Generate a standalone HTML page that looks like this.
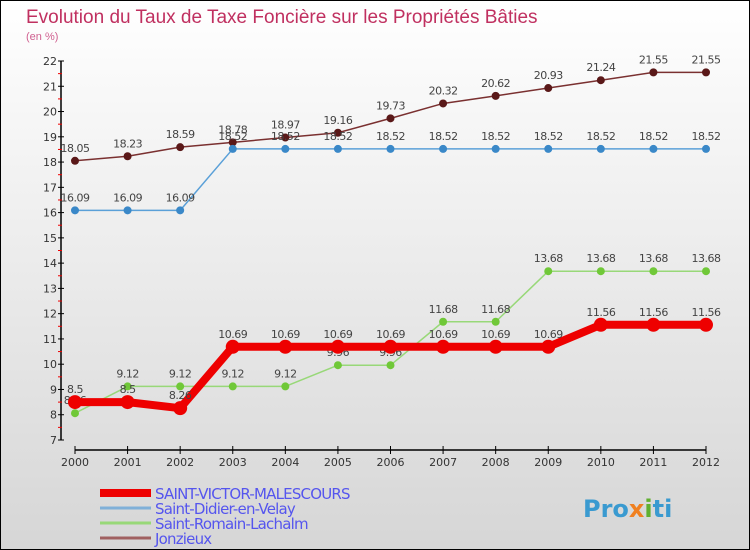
<!DOCTYPE html>
<html><head><meta charset="utf-8"><style>
body{margin:0}
svg{display:block;font-family:"DejaVu Sans","Liberation Sans",sans-serif}
</style></head><body>
<svg id="c" width="750" height="550" viewBox="0 0 750 550">
<defs><linearGradient id="bg" x1="0" y1="0" x2="0" y2="1"><stop offset="0" stop-color="#ffffff"/><stop offset="1" stop-color="#d6d6d6"/></linearGradient></defs>
<rect x="0.5" y="0.5" width="749" height="549" fill="url(#bg)" stroke="#000"/>
<text x="26" y="23" font-size="19" fill="#c03060" font-family="Liberation Sans, sans-serif">Evolution du Taux de Taxe Foncière sur les Propriétés Bâties</text>
<text x="26" y="40" font-size="11" fill="#d06090" font-family="Liberation Sans, sans-serif">(en %)</text>
<g id="axes"></g>
<g id="series"></g>
<g id="legend"></g>
<text x="583" y="517" font-size="24" font-weight="bold" fill="#3a9ad0">Pro<tspan fill="#f08020">x</tspan><tspan fill="#60b030">i</tspan>ti</text>
</svg>
<script>
const years=[2000,2001,2002,2003,2004,2005,2006,2007,2008,2009,2010,2011,2012];
const yTicks=[7,8,9,10,11,12,13,14,15,16,17,18,19,20,21,22];
const sVictor=[8.5,8.5,8.26,10.69,10.69,10.69,10.69,10.69,10.69,10.69,11.56,11.56,11.56];
const sDidier=[16.09,16.09,16.09,18.52,18.52,18.52,18.52,18.52,18.52,18.52,18.52,18.52,18.52];
const sRomain=[8.06,9.12,9.12,9.12,9.12,9.96,9.96,11.68,11.68,13.68,13.68,13.68,13.68];
const sJonz=[18.05,18.23,18.59,18.78,18.97,19.16,19.73,20.32,20.62,20.93,21.24,21.55,21.55];
const names=["SAINT-VICTOR-MALESCOURS","Saint-Didier-en-Velay","Saint-Romain-Lachalm","Jonzieux"];
const NS="http://www.w3.org/2000/svg";
const x=i=>75+i*(706-75)/12;
const y=v=>440-(v-7)*(440-61)/15;
function mk(t,a,p){const e=document.createElementNS(NS,t);for(const k in a)e.setAttribute(k,a[k]);p.appendChild(e);return e;}
const ax=document.getElementById('axes');
let e=mk('line',{x1:61,y1:61,x2:61,y2:440,stroke:'#000','stroke-width':1.5},ax);


e=mk('line',{x1:75,y1:450,x2:706,y2:450,stroke:'#000','stroke-width':1.5},ax);


yTicks.forEach(v=>{
 mk('line',{x1:58,y1:y(v),x2:64,y2:y(v),stroke:'#000'},ax);
 if(v<22) mk('line',{x1:58,y1:y(v+0.5),x2:62,y2:y(v+0.5),stroke:'#e00'},ax);
 const t=mk('text',{x:57,y:y(v)+4,'font-size':11,'text-anchor':'end',fill:'#333'},ax);t.textContent=v;
 
 
});
years.forEach((yr,i)=>{
 mk('line',{x1:x(i),y1:446,x2:x(i),y2:454,stroke:'#000'},ax);
 const t=mk('text',{x:x(i),y:466,'font-size':11,'text-anchor':'middle',fill:'#333'},ax);t.textContent=yr;
 
 
});
const sg=document.getElementById('series');
function series(d,col,w,r,dot,nm){
 const g=mk('g',{},sg);
 
 
 mk('polyline',{points:d.map((v,i)=>x(i)+','+y(v)).join(' '),fill:'none',stroke:col,'stroke-width':w,'stroke-linejoin':'round'},g);
 d.forEach((v,i)=>{
  const c=mk('circle',{cx:x(i),cy:y(v),r:r,fill:dot},g);
  
  
  const t=mk('text',{x:x(i),y:y(v)-9,'font-size':11,'text-anchor':'middle',fill:'#444','letter-spacing':'-0.5'},g);t.textContent=v;
  
  
 });
}
series(sJonz,'#7a3030',1.5,4,'#5a1818','series-jonzieux');
series(sDidier,'#5aa0d8',1.5,4,'#3a88c8','series-saint-didier');
series(sRomain,'#98d878',1.5,4,'#70c838','series-saint-romain');
series(sVictor,'#ee0000',8,7,'#ee0000','series-saint-victor');
const lg=document.getElementById('legend');
const lc=['#ee0000','#80b0d8','#98d878','#a06060'],lw=[8,3,3,3];
names.forEach((n,i)=>{
 const yy=493+i*15;
 const l=mk('line',{x1:100,y1:yy,x2:151,y2:yy,stroke:lc[i],'stroke-width':lw[i]},lg);
 
 
 const t=mk('text',{x:155,y:yy+6,'font-size':15,fill:'#5555ee','letter-spacing':'-0.8'},lg);t.textContent=n;
 
 
});
</script>
</body></html>
